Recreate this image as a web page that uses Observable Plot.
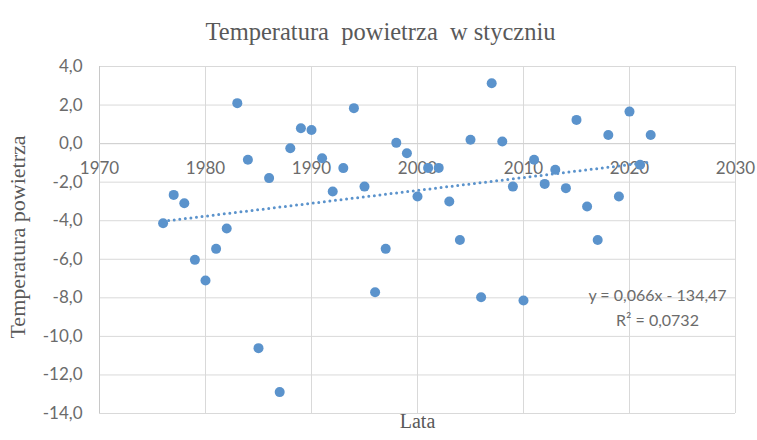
<!DOCTYPE html>
<html>
<head>
<meta charset="utf-8">
<script src="https://cdn.jsdelivr.net/npm/d3@7"></script>
<script src="https://cdn.jsdelivr.net/npm/@observablehq/plot@0.6"></script>
<style>
  html, body { margin: 0; padding: 0; background: #ffffff; }
  #chart svg { display: block; }
</style>
</head>
<body>
<div id="chart"></div>
<script>
const years = [1976, 1977, 1978, 1979, 1980, 1981, 1982, 1983, 1984, 1985,
  1986, 1987, 1988, 1989, 1990, 1991, 1992, 1993, 1994, 1995,
  1996, 1997, 1998, 1999, 2000, 2001, 2002, 2003, 2004, 2005,
  2006, 2007, 2008, 2009, 2010, 2011, 2012, 2013, 2014, 2015,
  2016, 2017, 2018, 2019, 2020, 2021, 2022];
const temps = [-4.13, -2.66, -3.09, -6.03, -7.10, -5.46, -4.40, 2.10, -0.84, -10.61,
  -1.79, -12.89, -0.24, 0.80, 0.71, -0.76, -2.48, -1.27, 1.84, -2.23,
  -7.71, -5.46, 0.04, -0.50, -2.74, -1.26, -1.26, -3.00, -5.00, 0.20,
  -7.97, 3.13, 0.11, -2.23, -8.14, -0.84, -2.09, -1.36, -2.31, 1.23,
  -3.26, -5.00, 0.45, -2.74, 1.66, -1.10, 0.45];
const xTicks = [1970, 1980, 1990, 2000, 2010, 2020, 2030];
const yTicks = [-14, -12, -10, -8, -6, -4, -2, 0, 2, 4];
const title = "Temperatura  powietrza  w styczniu";
const xLabel = "Lata";
const yLabel = "Temperatura powietrza";
const equation = ["y = 0,066x - 134,47", "R² = 0,0732"];

const data = years.map((x, i) => ({x, y: temps[i]}));
const fmt = d => d.toFixed(1).replace(".", ",");
const tickColor = "#6b6b6b";
const textColor = "#595959";
const blue = "#5b93cc";
const sans = "Lato, 'Open Sans', sans-serif";
const serif = "'Liberation Serif', 'DejaVu Serif', serif";

const chart = Plot.plot({
  width: 757,
  height: 440,
  marginLeft: 99,
  marginRight: 22,
  marginTop: 66,
  marginBottom: 27,
  style: {background: "#ffffff", fontFamily: sans},
  x: {domain: [1970, 2030], axis: null},
  y: {domain: [-14, 4], axis: null},
  marks: [
    Plot.gridY(yTicks, {stroke: "#d9d9d9", strokeOpacity: 1, strokeWidth: 1}),
    Plot.gridX(xTicks, {stroke: "#d9d9d9", strokeOpacity: 1, strokeWidth: 1}),
    Plot.ruleX([1970], {stroke: "#c8c8c8", strokeWidth: 1}),
    Plot.ruleY([0], {stroke: "#d0d0d0", strokeWidth: 1}),
    Plot.text(yTicks, {frameAnchor: "left", y: d => d, dx: -17, textAnchor: "end",
      text: fmt, fontSize: 17, fill: tickColor}),
    Plot.text(xTicks, {x: d => d, y: d => 0, dy: 25, text: d => String(d),
      fontSize: 17, fill: tickColor}),
    Plot.linearRegressionY(data, {x: "x", y: "y", ci: 0, stroke: blue,
      strokeWidth: 3, strokeDasharray: "0 5.6", strokeLinecap: "round"}),
    Plot.dot(data, {x: "x", y: "y", r: 5, fill: blue, stroke: null}),
    Plot.text([equation.join("\n")], {frameAnchor: "top-right", dx: -78, dy: 217,
      textAnchor: "middle", lineHeight: 1.55, fontSize: 16, fill: tickColor, text: d => d}),
    Plot.text([title], {frameAnchor: "top", dx: -37, dy: -44, fontSize: 24.5, fontFamily: serif,
      fill: textColor, text: d => d}),
    Plot.text([xLabel], {frameAnchor: "bottom", dy: 14, fontSize: 20, fontFamily: serif,
      fill: textColor, text: d => d}),
    Plot.text([yLabel], {frameAnchor: "left", dx: -82, dy: -3, rotate: -90, textAnchor: "middle",
      fontSize: 22, fontFamily: serif, fill: textColor, text: d => d})
  ]
});
document.getElementById("chart").appendChild(chart);
</script>
</body>
</html>
